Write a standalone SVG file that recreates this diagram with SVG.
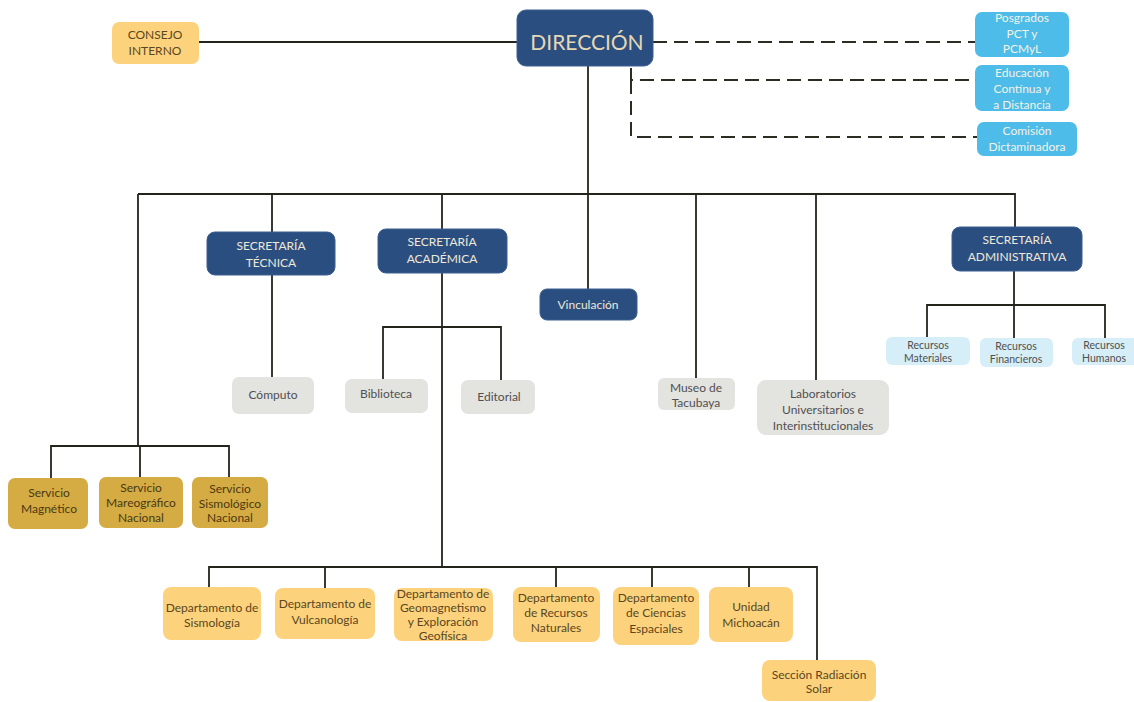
<svg xmlns="http://www.w3.org/2000/svg" width="1134" height="702" viewBox="0 0 1134 702">
<style>
text{font-family:Lato,"Open Sans","Liberation Sans",sans-serif;font-size:12px;text-anchor:middle}
.dk rect{fill:#2b4e81;stroke:#3d5f90;stroke-width:1}
.dk text{fill:#eee8d6}
.lb rect{fill:#4dbce8}
.lb text{fill:#f4f1e6}
.pb rect{fill:#d5eef8}
.pb text{fill:#505050;font-size:10.5px}
.gr rect{fill:#e3e3e0}
.gr text{fill:#505050}
.or rect{fill:#fcd37c}
.or text{fill:#5a4622}
.gd rect{fill:#d5ab44}
.gd text{fill:#4a3912}
.ln{fill:none;stroke:#24241c;stroke-width:1.8}
.ds{fill:none;stroke:#2c2c22;stroke-width:2;stroke-dasharray:14 7}
</style>
<rect width="1134" height="702" fill="#ffffff"/>
<g id="connectors">
<path class="ln" d="M199,42H517"/>
<path class="ds" d="M653,42H975"/>
<path class="ds" d="M631,68V80H975"/>
<path class="ds" d="M631,80V137H977"/>
<path class="ln" d="M588,66V289"/>
<path class="ln" d="M138,194H1015V227"/>
<path class="ln" d="M272,194V232M272,275V377"/>
<path class="ln" d="M442,194V229M442,273V567"/>
<path class="ln" d="M383,379V327H501V380"/>
<path class="ln" d="M696,194V378"/>
<path class="ln" d="M816,194V380"/>
<path class="ln" d="M1014,271V305M927,337V305H1105V338M1014,305V338"/>
<path class="ln" d="M138,194V446M51,478V446H229V477M140,446V477"/>
<path class="ln" d="M209,587V567H817V660M325,567V588M556,567V587M652,567V587M749,567V587"/>
</g>
<g id="consejo" class="or"><rect x="112" y="22" width="87" height="42" rx="7"/><text x="155" y="39" font-size="11">CONSEJO</text><text x="155" y="55" font-size="11">INTERNO</text></g>
<g id="direccion" class="dk"><rect x="517" y="10" width="136" height="56" rx="9"/><text x="587" y="49.5" font-size="21" fill="#e4d8b4" style="fill:#e4d8b4;font-size:21px">DIRECCIÓN</text></g>
<g id="posgrados" class="lb"><rect x="975" y="12" width="94" height="45" rx="7"/><text x="1022" y="22">Posgrados</text><text x="1022" y="38">PCT y</text><text x="1022" y="53">PCMyL</text></g>
<g id="educacion" class="lb"><rect x="975" y="65" width="94" height="46" rx="7"/><text x="1022" y="77">Educación</text><text x="1022" y="93">Contínua y</text><text x="1022" y="109">a Distancia</text></g>
<g id="comision" class="lb"><rect x="977" y="122" width="100" height="34" rx="7"/><text x="1027" y="135">Comisión</text><text x="1027" y="151">Dictaminadora</text></g>
<g id="sec-tecnica" class="dk"><rect x="207" y="232" width="128" height="43" rx="8"/><text x="271" y="250">SECRETARÍA</text><text x="271" y="267">TÉCNICA</text></g>
<g id="sec-academica" class="dk"><rect x="378" y="229" width="129" height="44" rx="8"/><text x="442" y="246">SECRETARÍA</text><text x="442" y="263">ACADÉMICA</text></g>
<g id="vinculacion" class="dk"><rect x="540" y="289" width="97" height="31" rx="7"/><text x="588" y="309">Vinculación</text></g>
<g id="sec-admin" class="dk"><rect x="952" y="227" width="130" height="44" rx="8"/><text x="1017" y="244">SECRETARÍA</text><text x="1017" y="261">ADMINISTRATIVA</text></g>
<g id="computo" class="gr"><rect x="232" y="377" width="82" height="37" rx="7"/><text x="273" y="399">Cómputo</text></g>
<g id="biblioteca" class="gr"><rect x="345" y="379" width="83" height="34" rx="7"/><text x="386" y="398">Biblioteca</text></g>
<g id="editorial" class="gr"><rect x="461" y="380" width="74" height="34" rx="7"/><text x="499" y="401">Editorial</text></g>
<g id="museo" class="gr"><rect x="658" y="378" width="77" height="32" rx="6"/><text x="696" y="392">Museo de</text><text x="696" y="407">Tacubaya</text></g>
<g id="laboratorios" class="gr"><rect x="757" y="380" width="132" height="55" rx="9"/><text x="823" y="398">Laboratorios</text><text x="823" y="414">Universitarios e</text><text x="823" y="430">Interinstitucionales</text></g>
<g id="rec-materiales" class="pb"><rect x="886" y="337" width="84" height="28" rx="6"/><text x="928" y="349">Recursos</text><text x="928" y="362">Materiales</text></g>
<g id="rec-financieros" class="pb"><rect x="980" y="338" width="73" height="29" rx="6"/><text x="1016" y="350">Recursos</text><text x="1016" y="363">Financieros</text></g>
<g id="rec-humanos" class="pb"><rect x="1072" y="338" width="70" height="27" rx="6"/><text x="1104" y="349">Recursos</text><text x="1104" y="362">Humanos</text></g>
<g id="serv-magnetico" class="gd"><rect x="8" y="478" width="80" height="51" rx="7"/><text x="49" y="497">Servicio</text><text x="49" y="513">Magnético</text></g>
<g id="serv-mareografico" class="gd"><rect x="99" y="477" width="84" height="51" rx="7"/><text x="141" y="492">Servicio</text><text x="141" y="507">Mareográfico</text><text x="141" y="522">Nacional</text></g>
<g id="serv-sismologico" class="gd"><rect x="192" y="477" width="76" height="51" rx="7"/><text x="230" y="493">Servicio</text><text x="230" y="508">Sismológico</text><text x="230" y="522">Nacional</text></g>
<g id="dep-sismologia" class="or"><rect x="163" y="587" width="98" height="53" rx="8"/><text x="212" y="612">Departamento de</text><text x="212" y="627">Sismología</text></g>
<g id="dep-vulcanologia" class="or"><rect x="275" y="588" width="100" height="51" rx="8"/><text x="325" y="608">Departamento de</text><text x="325" y="624">Vulcanología</text></g>
<g id="dep-geomagnetismo" class="or"><rect x="394" y="588" width="99" height="53" rx="8"/><text x="443" y="598">Departamento de</text><text x="443" y="612">Geomagnetismo</text><text x="443" y="626">y Exploración</text><text x="443" y="640">Geofísica</text></g>
<g id="dep-recursos" class="or"><rect x="513" y="587" width="87" height="55" rx="8"/><text x="556" y="602">Departamento</text><text x="556" y="617">de Recursos</text><text x="556" y="632">Naturales</text></g>
<g id="dep-ciencias" class="or"><rect x="613" y="587" width="86" height="58" rx="8"/><text x="656" y="602">Departamento</text><text x="656" y="617">de Ciencias</text><text x="656" y="633">Espaciales</text></g>
<g id="unidad-michoacan" class="or"><rect x="709" y="587" width="84" height="55" rx="8"/><text x="751" y="611">Unidad</text><text x="751" y="627">Michoacán</text></g>
<g id="seccion-radiacion" class="or"><rect x="762" y="660" width="114" height="41" rx="8"/><text x="819" y="679">Sección Radiación</text><text x="819" y="693">Solar</text></g>
</svg>
